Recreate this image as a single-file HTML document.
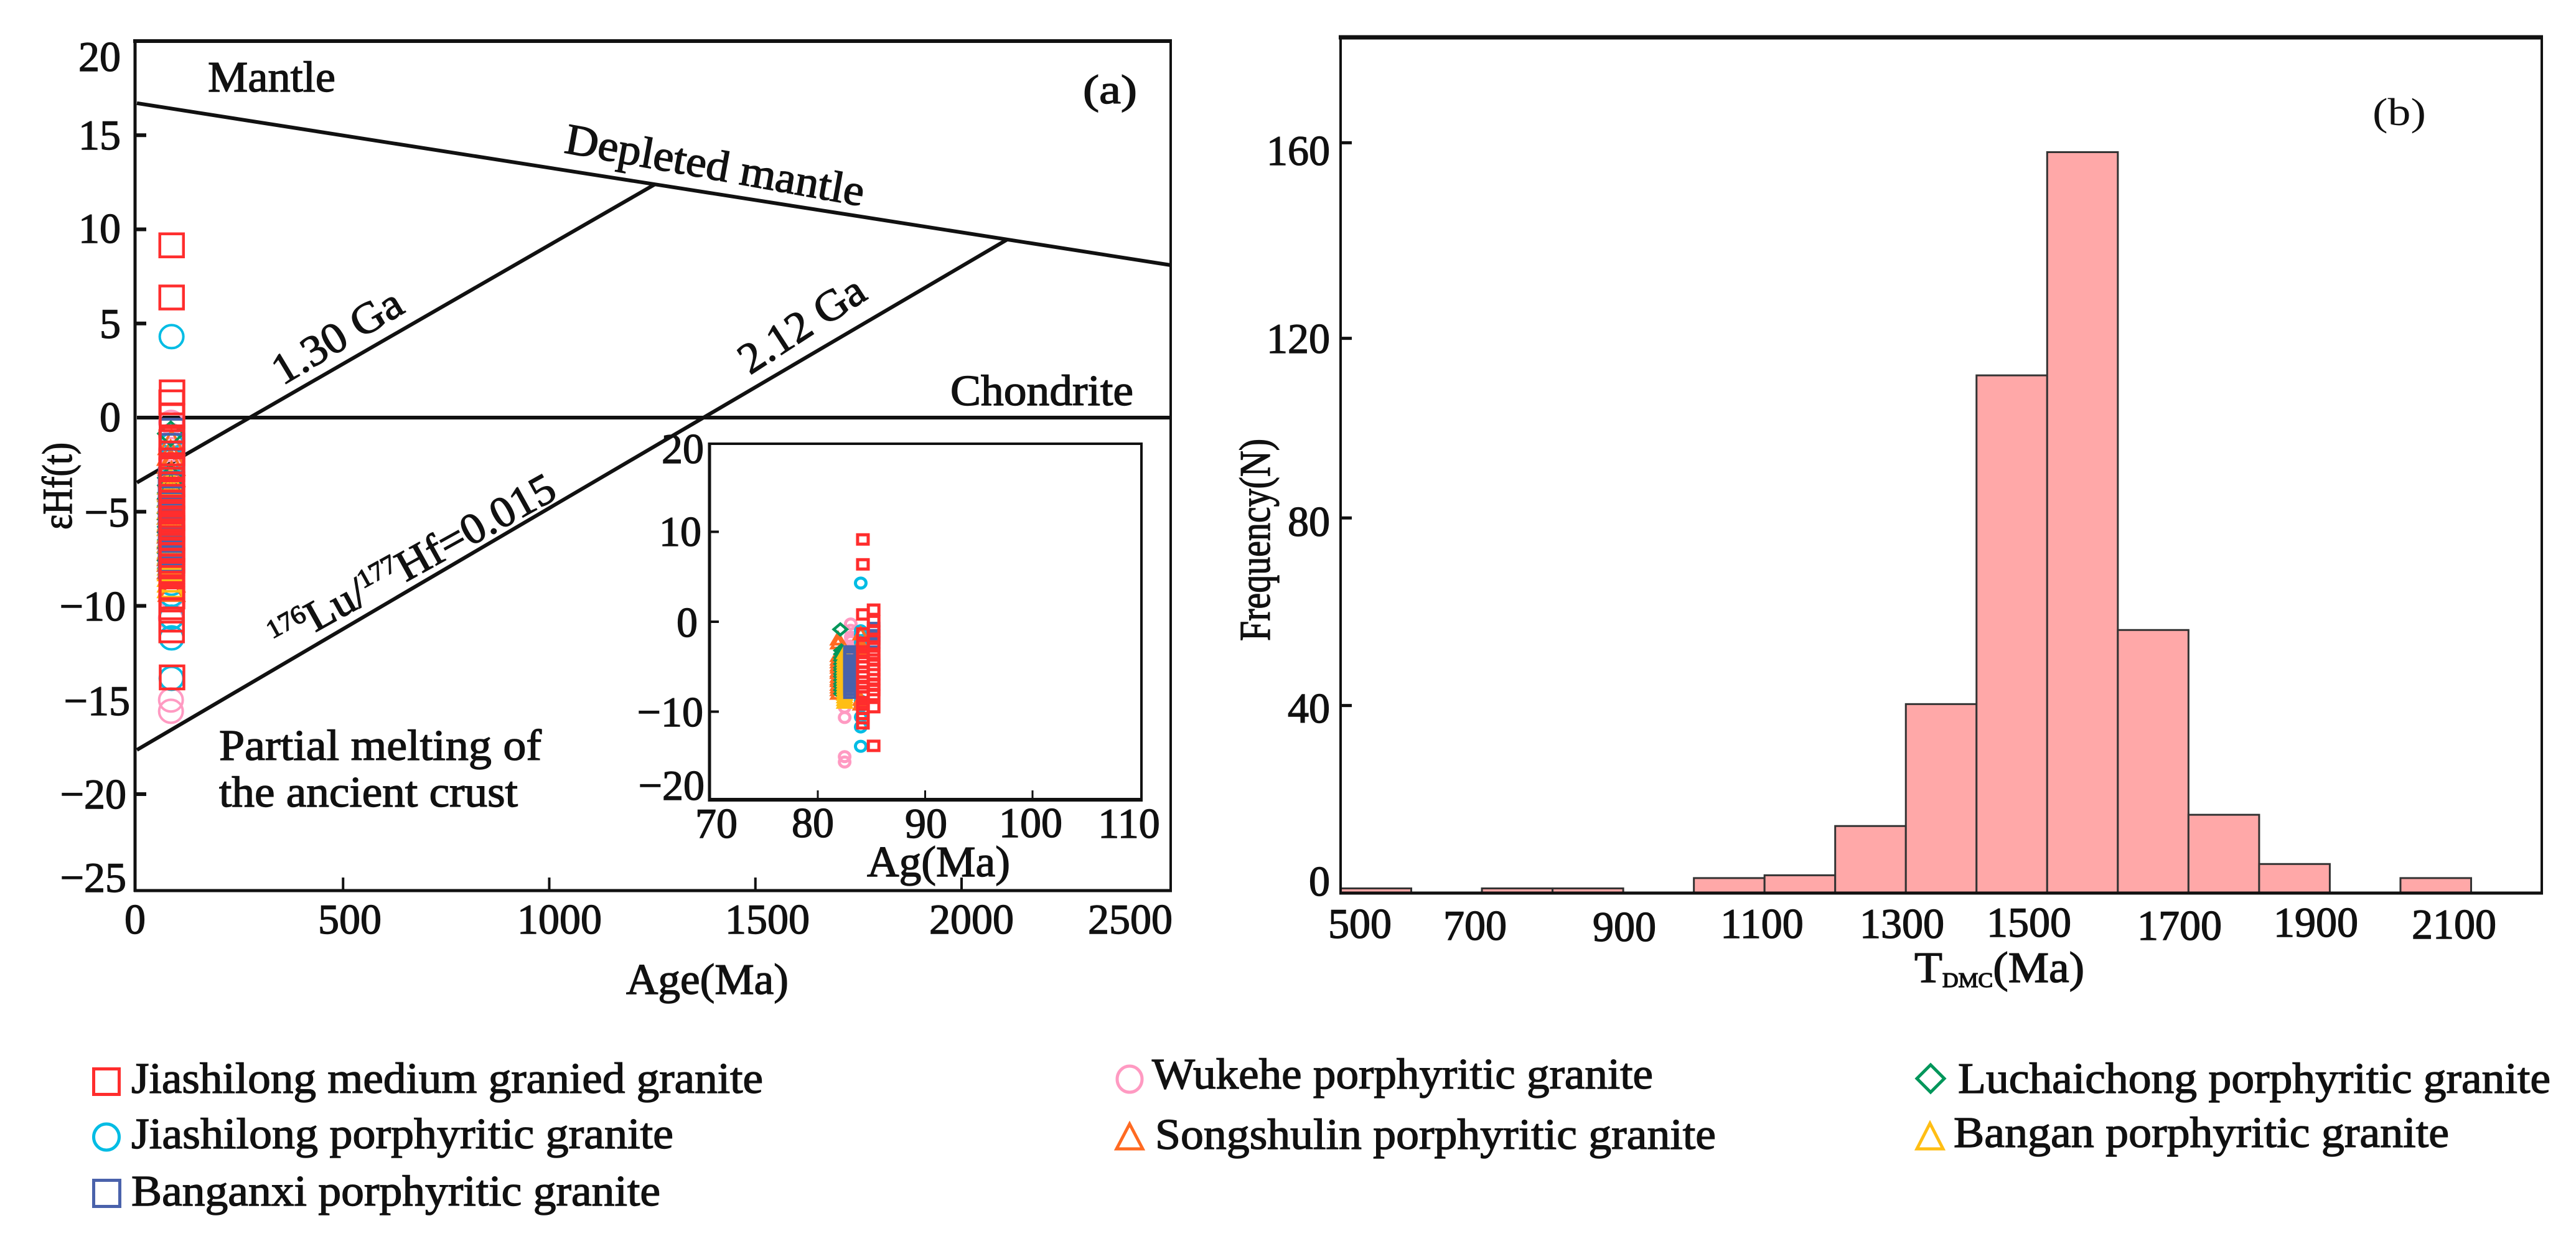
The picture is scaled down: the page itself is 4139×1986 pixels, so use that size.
<!DOCTYPE html>
<html lang="en">
<head>
<meta charset="utf-8">
<title>Hf isotope plot and TDMC histogram</title>
<style>
html,body{margin:0;padding:0;background:#fff;}
svg{display:block;}
text{font-family:"Liberation Serif",serif;fill:#111;stroke:#111;stroke-width:1.4px;}
.tick{font-size:68px;}
.lab{font-size:70px;}
</style>
</head>
<body>
<svg id="chart" xmlns="http://www.w3.org/2000/svg" width="4139" height="1986" viewBox="0 0 4139 1986">
<rect x="0" y="0" width="4139" height="1986" fill="#fff"/>

<g id="panelA"></g>
<g id="panelB"></g>

<!-- Panel (a) y tick labels -->
<text class="tick" x="194" y="114" text-anchor="end">20</text>
<text class="tick" x="194" y="240" text-anchor="end">15</text>
<text class="tick" x="194" y="390" text-anchor="end">10</text>
<text class="tick" x="194" y="543" text-anchor="end">5</text>
<text class="tick" x="194" y="693" text-anchor="end">0</text>
<text class="tick" x="208" y="846" text-anchor="end">−5</text>
<text class="tick" x="202" y="997" text-anchor="end">−10</text>
<text class="tick" x="209" y="1149" text-anchor="end">−15</text>
<text class="tick" x="203" y="1299" text-anchor="end">−20</text>
<text class="tick" x="203" y="1433" text-anchor="end">−25</text>

<!-- Panel (a) x tick labels -->
<text class="tick" x="217" y="1500" text-anchor="middle">0</text>
<text class="tick" x="562" y="1500" text-anchor="middle">500</text>
<text class="tick" x="899" y="1500" text-anchor="middle">1000</text>
<text class="tick" x="1233" y="1500" text-anchor="middle">1500</text>
<text class="tick" x="1561" y="1500" text-anchor="middle">2000</text>
<text class="tick" x="1816" y="1500" text-anchor="middle">2500</text>

<text class="lab" x="1006" y="1597" textLength="261" lengthAdjust="spacingAndGlyphs">Age(Ma)</text>
<text class="lab" transform="translate(115,851) rotate(-90)" style="font-size:68px" textLength="140" lengthAdjust="spacingAndGlyphs">εHf(t)</text>

<!-- Panel (a) annotations -->
<text class="lab" x="334" y="147" textLength="205" lengthAdjust="spacingAndGlyphs">Mantle</text>
<text class="lab" x="1740" y="166" style="font-size:66px" textLength="87" lengthAdjust="spacingAndGlyphs">(a)</text>
<text class="lab" transform="translate(905,245) rotate(10.2)" textLength="487" lengthAdjust="spacingAndGlyphs">Depleted mantle</text>
<text class="lab" transform="translate(454,620) rotate(-31)" textLength="232" lengthAdjust="spacingAndGlyphs">1.30 Ga</text>
<text class="lab" transform="translate(1205,603) rotate(-33)" textLength="228" lengthAdjust="spacingAndGlyphs">2.12 Ga</text>
<text class="lab" transform="translate(449,1048) rotate(-29) scale(1.04,1)"><tspan style="font-size:42px" dy="-24">176</tspan><tspan dy="24">Lu/</tspan><tspan style="font-size:42px" dy="-24">177</tspan><tspan dy="24">Hf=0.015</tspan></text>
<text class="lab" x="1527" y="651" textLength="294" lengthAdjust="spacingAndGlyphs">Chondrite</text>
<text class="lab" x="352" y="1221" textLength="518" lengthAdjust="spacingAndGlyphs">Partial melting of</text>
<text class="lab" x="352" y="1296" textLength="480" lengthAdjust="spacingAndGlyphs">the ancient crust</text>

<!-- Inset labels -->
<text class="tick" x="1131" y="744" text-anchor="end">20</text>
<text class="tick" x="1127" y="877" text-anchor="end">10</text>
<text class="tick" x="1121" y="1023" text-anchor="end">0</text>
<text class="tick" x="1130" y="1167" text-anchor="end">−10</text>
<text class="tick" x="1132" y="1285" text-anchor="end">−20</text>
<text class="tick" x="1151" y="1346" text-anchor="middle">70</text>
<text class="tick" x="1306" y="1345" text-anchor="middle">80</text>
<text class="tick" x="1488" y="1346" text-anchor="middle">90</text>
<text class="tick" x="1656" y="1345" text-anchor="middle">100</text>
<text class="tick" x="1814" y="1346" text-anchor="middle">110</text>
<text class="lab" x="1393" y="1408" textLength="230" lengthAdjust="spacingAndGlyphs">Ag(Ma)</text>

<!-- Panel (b) labels -->
<text class="tick" x="2137" y="265" text-anchor="end">160</text>
<text class="tick" x="2137" y="567" text-anchor="end">120</text>
<text class="tick" x="2137" y="861" text-anchor="end">80</text>
<text class="tick" x="2137" y="1161" text-anchor="end">40</text>
<text class="tick" x="2137" y="1439" text-anchor="end">0</text>
<text class="tick" x="2185" y="1507" text-anchor="middle">500</text>
<text class="tick" x="2370" y="1510" text-anchor="middle">700</text>
<text class="tick" x="2610" y="1512" text-anchor="middle">900</text>
<text class="tick" x="2831" y="1507" text-anchor="middle">1100</text>
<text class="tick" x="3056" y="1507" text-anchor="middle">1300</text>
<text class="tick" x="3260" y="1505" text-anchor="middle">1500</text>
<text class="tick" x="3502" y="1510" text-anchor="middle">1700</text>
<text class="tick" x="3721" y="1505" text-anchor="middle">1900</text>
<text class="tick" x="3943" y="1508" text-anchor="middle">2100</text>
<text class="lab" transform="translate(3076,1578) scale(1.05,1)">T<tspan style="font-size:34px" dy="8">DMC</tspan><tspan dy="-8">(Ma)</tspan></text>
<text class="lab" transform="translate(2040,1030) rotate(-90)" textLength="325" lengthAdjust="spacingAndGlyphs">Frequency(N)</text>
<text class="lab" x="3812" y="201" style="stroke-width:0;font-size:62px" textLength="86" lengthAdjust="spacingAndGlyphs">(b)</text>

<!-- Legend -->
<g>
<rect x="150.500" y="1717.500" width="41" height="41" fill="none" stroke="#ff2d2d" stroke-width="5"/>
<text class="lab" x="211" y="1756" textLength="1015" lengthAdjust="spacingAndGlyphs">Jiashilong medium granied granite</text>
<ellipse cx="171" cy="1827" rx="20.500" ry="21" fill="none" stroke="#00bce4" stroke-width="5"/>
<text class="lab" x="211" y="1845" textLength="871" lengthAdjust="spacingAndGlyphs">Jiashilong porphyritic granite</text>
<rect x="150.500" y="1896.500" width="42" height="42" fill="none" stroke="#4a62ab" stroke-width="5"/>
<text class="lab" x="211" y="1937" textLength="850" lengthAdjust="spacingAndGlyphs">Banganxi porphyritic granite</text>
<ellipse cx="1815" cy="1734" rx="20" ry="21" fill="none" stroke="#ff9ac2" stroke-width="5"/>
<text class="lab" x="1851" y="1749" textLength="805" lengthAdjust="spacingAndGlyphs">Wukehe porphyritic granite</text>
<polygon points="1815,1806 1836,1846 1794,1846" fill="none" stroke="#ff6a22" stroke-width="5"/>
<text class="lab" x="1856" y="1846" textLength="901" lengthAdjust="spacingAndGlyphs">Songshulin porphyritic granite</text>
<polygon points="3102,1711 3124,1733 3102,1755 3080,1733" fill="none" stroke="#00965a" stroke-width="5"/>
<text class="lab" x="3146" y="1756" textLength="952" lengthAdjust="spacingAndGlyphs">Luchaichong porphyritic granite</text>
<polygon points="3101,1805 3122,1846 3080,1846" fill="none" stroke="#ffbe14" stroke-width="5"/>
<text class="lab" x="3139" y="1843" textLength="796" lengthAdjust="spacingAndGlyphs">Bangan porphyritic granite</text>
</g>
</svg>

<script>
// ---- Panel (a) reference lines: [age Ma], [epsilon Hf] ----
const depletedMantleAges = [0, 2507];
const depletedMantleHf = [16.7, 8.1];
const chondriteAges = [0, 2507];
const chondriteHf = [0, 0];
const line130Ages = [0, 1257];
const line130Hf = [-3.45, 12.4];
const line212Ages = [0, 2110];
const line212Hf = [-17.65, 9.45];

// ---- Axis ticks ----
const mainXTicks = [500, 1000, 1500, 2000];
const mainYTicks = [15, 10, 5, -5, -10, -20];
const insetXTicks = [80, 90, 100];
const insetYTicks = [10, 0, -10];

// ---- Sample series: epsilon Hf values, with age of each group (Ma) ----
const wukeheUpperAge = 83.07;
const wukeheUpperHf = [-0.25, -0.95, -1.7, -2.2, -2.7, -3.1, -3.6];
const wukeheLowerAge = 82.5;
const wukeheLowerHf = [-9.5, -10.65, -15.0, -15.6];

const jiashilongPorphAge = 84;
const jiashilongPorphHf = [4.3, -1.0, -1.45, -2.3, -3.1, -8.8, -9.4, -10.6, -11.7, -13.85];

const songshulinLeftAge = 81.9;
const songshulinLeftHf = [-1.87, -2.3, -3.7, -4.1, -4.4, -4.75, -5.0, -5.4, -5.6, -6.0, -6.3, -6.5, -6.9, -7.2, -7.5, -7.9];
const songshulinRightAge = 84;
const songshulinRightHf = [-1.3, -2.4, -3.0, -8.6, -9.1];

const luchaichongTopAge = 82.1;
const luchaichongTopHf = [-0.85];
const luchaichongAge = 82.2;
const luchaichongHf = [-3.2, -3.6, -4.0, -4.3, -4.7, -5.1, -5.4, -5.8, -6.1, -6.5, -6.9, -7.2, -7.6, -8.0];

const banganAge = 82.5;
const banganHf = [-3.4, -3.8, -4.1, -4.4, -4.7, -5.0, -5.3, -5.6, -5.9, -6.2, -6.5, -6.8, -7.1, -7.4, -7.7, -8.0, -8.3, -8.6, -8.9];

const banganxiLeftAge = 83;
const banganxiLeftHf = [-3.3, -3.6, -3.9, -4.3, -4.6, -4.95, -5.2, -5.55, -5.9, -6.2, -6.5, -6.85, -7.2, -7.55, -7.9];
const banganxiRightAge = 85.2;
const banganxiRightHf = [-0.7, -1.5, -2.3];

const jiashilongMedLeftAge = 84.2;
const jiashilongMedLeftHf = [9.15, 6.38, 0.81, -1.3, -2.6, -3.3, -3.9, -4.5, -5.0, -5.6, -6.1, -6.7, -7.3, -7.9, -8.3, -9.0, -9.66, -10.25, -10.73, -11.3];
const jiashilongMedRightAge = 85.2;
const jiashilongMedRightHf = [1.34, 0.08, -1.05, -1.9, -2.75, -3.55, -4.2, -4.8, -5.35, -5.85, -6.4, -7.0, -7.6, -8.15, -9.5, -13.8];

// ---- Panel (b) histogram ----
const binStarts = [500, 600, 700, 800, 900, 1000, 1100, 1200, 1300, 1400, 1500, 1600, 1700, 1800, 1900, 2000, 2100];
const binCounts = [1, 0, 1, 1, 0, 3.2, 3.8, 14.3, 40.3, 110.4, 158, 56.1, 16.7, 6.2, 0, 3.2, 0];
const binWidth = 100;
const freqTicks = [160, 118.3, 80, 40];

// ---- Axis functions ----
function mainX(v) { return 220 + 0.6625 * v; }
function mainY(v) { return 671 - 30.25 * v; }
function insetX(v) { return 1314 + 17.25 * (v - 80); }
function insetY(v) { return 999 - 14.45 * v; }
function histX(v) { return 2154 + (v - 500) * 1.1353; }
function histY(v) { return 1435 - 7.535 * v; }

const NS = 'http://www.w3.org/2000/svg';
const panelA = document.getElementById('panelA');
const panelB = document.getElementById('panelB');

function segment(parent, x1, y1, x2, y2, width, color, name) {
  const el = document.createElementNS(NS, 'line');
  el.setAttribute('x1', x1);
  el.setAttribute('y1', y1);
  el.setAttribute('x2', x2);
  el.setAttribute('y2', y2);
  el.setAttribute('stroke', color);
  el.setAttribute('stroke-width', width);
  
  
  parent.appendChild(el);
  return el;
}

function marker(parent, shape, cx, cy, w, h, sw, color, name) {
  let el;
  if (shape === 'square') {
    el = document.createElementNS(NS, 'rect');
    el.setAttribute('x', cx - w / 2);
    el.setAttribute('y', cy - h / 2);
    el.setAttribute('width', w);
    el.setAttribute('height', h);
  } else if (shape === 'circle') {
    el = document.createElementNS(NS, 'ellipse');
    el.setAttribute('cx', cx);
    el.setAttribute('cy', cy);
    el.setAttribute('rx', w / 2);
    el.setAttribute('ry', h / 2);
  } else if (shape === 'triangle') {
    el = document.createElementNS(NS, 'polygon');
    el.setAttribute('points', cx + ',' + (cy - h / 2) + ' ' + (cx + w / 2) + ',' + (cy + h / 2) + ' ' + (cx - w / 2) + ',' + (cy + h / 2));
  } else {
    el = document.createElementNS(NS, 'polygon');
    el.setAttribute('points', cx + ',' + (cy - h / 2) + ' ' + (cx + w / 2) + ',' + cy + ' ' + cx + ',' + (cy + h / 2) + ' ' + (cx - w / 2) + ',' + cy);
  }
  el.setAttribute('fill', 'none');
  el.setAttribute('stroke', color);
  el.setAttribute('stroke-width', sw);
  
  
  parent.appendChild(el);
}

// Draw order: first entries lie underneath
const PINK = '#ff9ac2', CYAN = '#00bce4', ORANGE = '#ff6a22', GREEN = '#00965a', YELLOW = '#ffbe14', BLUE = '#4a62ab', RED = '#ff2d2d';
const seriesGroups = [
  { age: wukeheUpperAge, hf: wukeheUpperHf, shape: 'circle', color: PINK, name: 'point-wukehe' },
  { age: wukeheLowerAge, hf: wukeheLowerHf, shape: 'circle', color: PINK, name: 'point-wukehe' },
  { age: jiashilongPorphAge, hf: jiashilongPorphHf, shape: 'circle', color: CYAN, name: 'point-jiashilong-porphyritic' },
  { age: songshulinLeftAge, hf: songshulinLeftHf, shape: 'triangle', color: ORANGE, name: 'point-songshulin' },
  { age: songshulinRightAge, hf: songshulinRightHf, shape: 'triangle', color: ORANGE, name: 'point-songshulin' },
  { age: luchaichongTopAge, hf: luchaichongTopHf, shape: 'diamond', color: GREEN, name: 'point-luchaichong' },
  { age: luchaichongAge, hf: luchaichongHf, shape: 'diamond', color: GREEN, name: 'point-luchaichong' },
  { age: banganAge, hf: banganHf, shape: 'triangle', color: YELLOW, name: 'point-bangan' },
  { age: banganxiLeftAge, hf: banganxiLeftHf, shape: 'square', color: BLUE, name: 'point-banganxi' },
  { age: banganxiRightAge, hf: banganxiRightHf, shape: 'square', color: BLUE, name: 'point-banganxi' },
  { age: jiashilongMedLeftAge, hf: jiashilongMedLeftHf, shape: 'square', color: RED, name: 'point-jiashilong-medium' },
  { age: jiashilongMedRightAge, hf: jiashilongMedRightHf, shape: 'square', color: RED, name: 'point-jiashilong-medium' }
];

// ---- Panel (a) main frame ----
segment(panelA, 214, 66, 1883, 66, 6, '#111', 'panel-a-top-axis');
segment(panelA, 217, 64, 217, 1433, 5, '#111', 'panel-a-left-axis');
segment(panelA, 215, 1431, 1883, 1431, 5, '#111', 'panel-a-bottom-axis');
segment(panelA, 1881, 64, 1881, 1433, 4, '#111', 'panel-a-right-axis');
mainXTicks.forEach(function (t) {
  segment(panelA, mainX(t), 1431, mainX(t), 1410, 4, '#111', 'x-tick');
});
mainYTicks.forEach(function (t) {
  segment(panelA, 217, mainY(t), 235, mainY(t), 6, '#111', 'y-tick');
});

// ---- Panel (a) evolution lines ----
segment(panelA, mainX(depletedMantleAges[0]), mainY(depletedMantleHf[0]), mainX(depletedMantleAges[1]), mainY(depletedMantleHf[1]), 6, '#111', 'depleted-mantle-line');
segment(panelA, mainX(chondriteAges[0]), mainY(chondriteHf[0]), mainX(chondriteAges[1]), mainY(chondriteHf[1]), 6, '#111', 'chondrite-line');
segment(panelA, mainX(line130Ages[0]), mainY(line130Hf[0]), mainX(line130Ages[1]), mainY(line130Hf[1]), 6, '#111', 'model-age-line-130');
segment(panelA, mainX(line212Ages[0]), mainY(line212Hf[0]), mainX(line212Ages[1]), mainY(line212Hf[1]), 6, '#111', 'model-age-line-212');

// ---- Inset frame ----
const inset = document.createElementNS(NS, 'g');


panelA.appendChild(inset);
const insetBg = document.createElementNS(NS, 'rect');
insetBg.setAttribute('x', 1140);
insetBg.setAttribute('y', 713);
insetBg.setAttribute('width', 694);
insetBg.setAttribute('height', 572);
insetBg.setAttribute('fill', '#fff');


inset.appendChild(insetBg);
segment(inset, 1138, 713, 1836, 713, 4, '#111', 'inset-top-axis');
segment(inset, 1140, 711, 1140, 1288, 5, '#111', 'inset-left-axis');
segment(inset, 1138, 1285, 1836, 1285, 6, '#111', 'inset-bottom-axis');
segment(inset, 1834, 711, 1834, 1288, 4, '#111', 'inset-right-axis');
insetXTicks.forEach(function (t) {
  segment(inset, insetX(t), 1285, insetX(t), 1270, 3, '#111', 'inset-x-tick');
});
insetYTicks.forEach(function (t) {
  segment(inset, 1140, insetY(t), 1155, insetY(t), 4, '#111', 'inset-y-tick');
});

// ---- Points ----
seriesGroups.forEach(function (s) {
  s.hf.forEach(function (v) {
    const big = s.shape === 'square' ? [38, 37, 4.5] : s.shape === 'circle' ? [38, 37, 4] : [40, 38, 4];
    marker(panelA, s.shape, mainX(s.age), mainY(v), big[0], big[1], big[2], s.color, s.name);
  });
});
seriesGroups.forEach(function (s) {
  s.hf.forEach(function (v) {
    const small = s.shape === 'square' ? [17, 15, 5] : s.shape === 'circle' ? [17, 16, 5] : [21, 18, 4.5];
    marker(inset, s.shape, insetX(s.age), insetY(v), small[0], small[1], small[2], s.color, 'inset-' + s.name);
  });
});

// ---- Panel (b) histogram ----
binStarts.forEach(function (start, i) {
  if (binCounts[i] <= 0) { return; }
  const bar = document.createElementNS(NS, 'rect');
  bar.setAttribute('x', histX(start));
  bar.setAttribute('y', histY(binCounts[i]));
  bar.setAttribute('width', histX(start + binWidth) - histX(start));
  bar.setAttribute('height', histY(0) - histY(binCounts[i]));
  bar.setAttribute('fill', '#ffa8a8');
  bar.setAttribute('stroke', '#333');
  bar.setAttribute('stroke-width', 3);
  
  
  panelB.appendChild(bar);
});
segment(panelB, 2151, 60, 4086, 60, 7, '#111', 'panel-b-top-axis');
segment(panelB, 2154, 57, 2154, 1437, 4, '#111', 'panel-b-left-axis');
segment(panelB, 2152, 1435, 4086, 1435, 5, '#111', 'panel-b-bottom-axis');
segment(panelB, 4084, 57, 4084, 1437, 4, '#111', 'panel-b-right-axis');
freqTicks.forEach(function (t) {
  segment(panelB, 2154, histY(t), 2172, histY(t), 5, '#111', 'frequency-tick');
});
</script>
</body>
</html>
